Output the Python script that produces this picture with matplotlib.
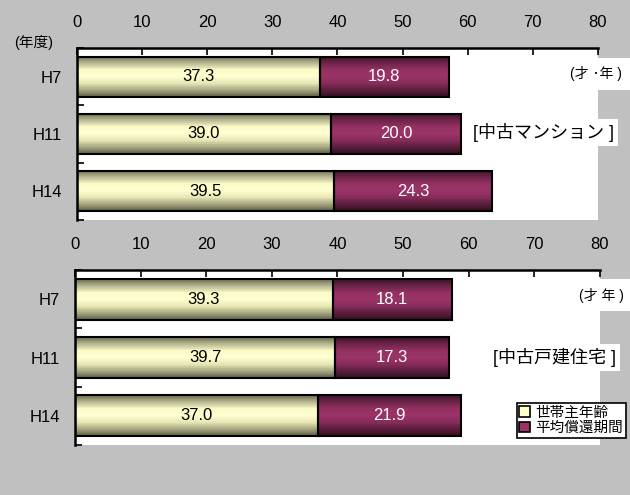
import numpy as np
import matplotlib
matplotlib.use("Agg")
import matplotlib.pyplot as plt
from matplotlib.colors import LinearSegmentedColormap
from matplotlib.patches import Patch

plt.rcParams['font.family'] = ['Liberation Sans', 'Noto Sans CJK JP']

years = ['H7', 'H11', 'H14']
series_names = ['世帯主年齢', '平均償還期間']

# 中古マンション
mansion_age = [37.3, 39.0, 39.5]
mansion_term = [19.8, 20.0, 24.3]
# 中古戸建住宅
house_age = [39.3, 39.7, 37.0]
house_term = [18.1, 17.3, 21.9]

bg = '#c0c0c0'
yellow = '#ffffcc'
purple = '#993366'

# shaded bands across the bar height (dark edges, light middle)
cm_yellow = LinearSegmentedColormap.from_list(
    'y', ['#6e6e50', '#b8b894', '#fbfbc8', '#ffffd2', '#e6e6b4', '#a8a884', '#5f5f45'])
cm_purple = LinearSegmentedColormap.from_list(
    'p', ['#3c1428', '#6e2549', '#953162', '#9c3468', '#862d5a', '#5c1e3d', '#33101f'])
grad = np.linspace(0, 1, 64).reshape(-1, 1)


def shaded_bars(ax, y, widths, left, cmap):
    bars = ax.barh(y, widths, left=left, height=0.7, facecolor='none',
                   edgecolor='black', linewidth=1.5, zorder=3)
    for b in bars:
        x0, y0 = b.get_x(), b.get_y()
        im = ax.imshow(grad, cmap=cmap, aspect='auto', interpolation='nearest',
                       extent=(x0, x0 + b.get_width(), y0 + b.get_height(), y0),
                       zorder=2)
        im.set_clip_path(b)
    return bars


def panel(ax, age, term, unit_text, title_text, unit_y, title_y, title_x):
    y = np.arange(len(years))
    shaded_bars(ax, y, age, 0, cm_yellow)
    shaded_bars(ax, y, term, age, cm_purple)
    for i in range(len(years)):
        ax.text(age[i] / 2, y[i], f'{age[i]:.1f}', ha='center', va='center',
                fontsize=12, color='black', zorder=4)
        ax.text(age[i] + term[i] / 2, y[i], f'{term[i]:.1f}', ha='center',
                va='center', fontsize=12, color='white', zorder=4)

    ax.set_xlim(0, 80)
    ax.set_ylim(2.5, -0.5)
    ax.set_facecolor('white')
    ax.xaxis.tick_top()
    ax.set_xticks(range(0, 81, 10))
    ax.tick_params(axis='x', direction='in', length=5, width=1.2, pad=13,
                   labelsize=12)
    ax.set_yticks([-0.5, 0.5, 1.5, 2.5])
    ax.set_yticklabels([])
    ax.set_yticks(y, minor=True)
    ax.set_yticklabels(years, minor=True)
    ax.tick_params(axis='y', which='major', direction='in', length=5, width=1.2)
    ax.tick_params(axis='y', which='minor', length=0, pad=11, labelsize=12)
    for s in ['right', 'bottom']:
        ax.spines[s].set_visible(False)
    for s in ['top', 'left']:
        ax.spines[s].set_linewidth(1.8)

    ax.text(1.045, unit_y, unit_text, transform=ax.transAxes, ha='right',
            va='center', fontsize=10,
            bbox=dict(facecolor='white', edgecolor='none', pad=6))
    ax.text(title_x, title_y, title_text, transform=ax.transAxes, ha='right',
            va='center', fontsize=13,
            bbox=dict(facecolor='white', edgecolor='none', pad=3))


fig = plt.figure(figsize=(6.3, 4.95), dpi=100, facecolor=bg)
ax1 = fig.add_axes([0.1222, 0.5556, 0.827, 0.3475])
ax2 = fig.add_axes([0.119, 0.101, 0.8333, 0.3535])

panel(ax1, mansion_age, mansion_term, '(才 ･年 )', '[中古マンション ]', 0.85, 0.51, 1.03)
panel(ax2, house_age, house_term, '(才 年 )', '[中古戸建住宅 ]', 0.857, 0.50, 1.03)

fig.text(0.022, 0.915, '(年度)', fontsize=10.5, ha='left', va='center')

handles = [Patch(facecolor=yellow, edgecolor='black', linewidth=1.2),
           Patch(facecolor=purple, edgecolor='black', linewidth=1.2)]
leg = ax2.legend(handles, series_names, loc='lower right',
                 bbox_to_anchor=(1.05, 0.04), fontsize=10.5, frameon=True,
                 fancybox=False, framealpha=1, edgecolor='black',
                 handlelength=0.7, handleheight=0.7, handletextpad=0.4,
                 borderpad=0.2, labelspacing=0.1, borderaxespad=0)
leg.get_frame().set_linewidth(1.2)

fig.savefig('out.png', dpi=100, facecolor=bg)
